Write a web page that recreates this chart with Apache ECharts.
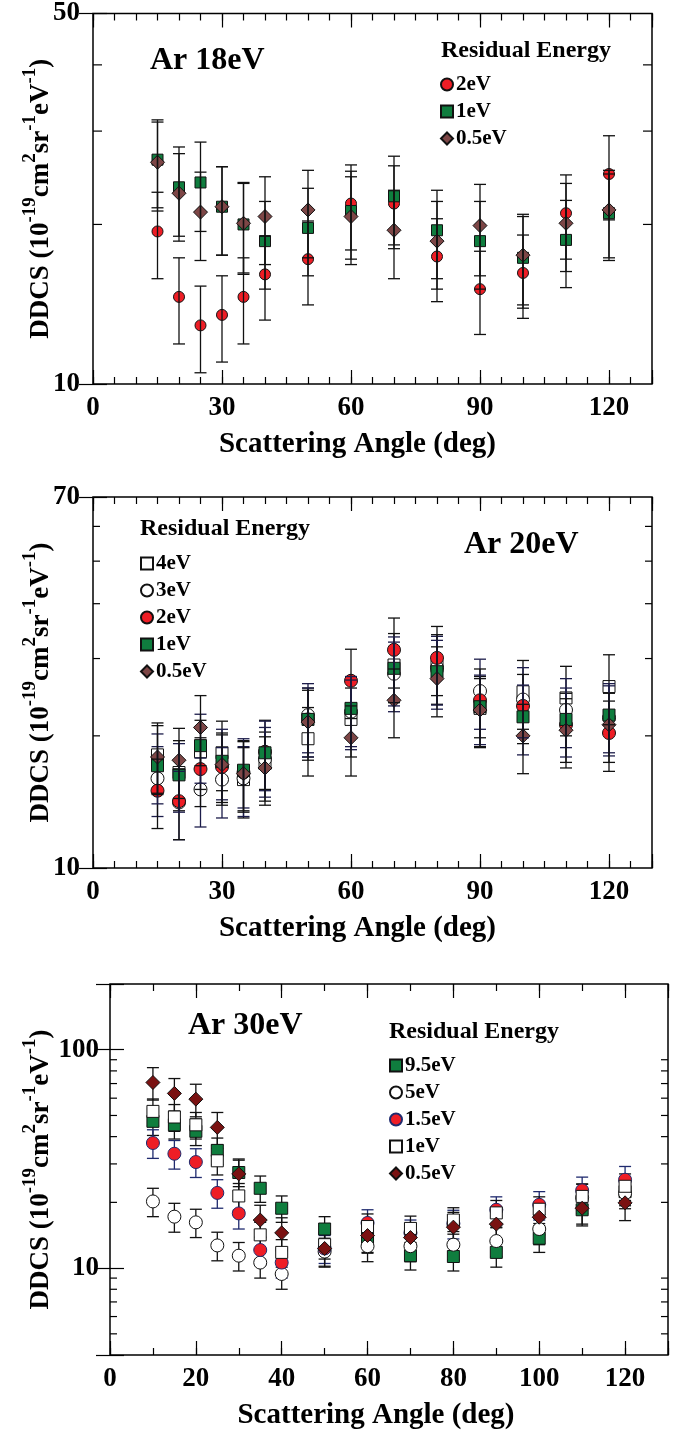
<!DOCTYPE html>
<html>
<head>
<meta charset="utf-8">
<title>Ar DDCS</title>
<script src="https://cdn.jsdelivr.net/npm/echarts@6.0.0/dist/echarts.min.js"></script>
<style>
  html, body { margin: 0; padding: 0; background: #fff; }
  #chart { width: 676px; height: 1434px; }
</style>
</head>
<body>
<div id="chart"></div>
<script>
// ---- data ----
// Ar 18eV
var angles18 = [15, 20, 25, 30, 35, 40, 50, 60, 70, 80, 90, 100, 110, 120];
var ar18_2eV = [19.4, 14.6, 12.9, 13.5, 14.6, 16.1, 17.2, 21.9, 21.9, 17.4, 15.1, 16.2, 21.0, 24.9];
var ar18_2eV_err = [3.6, 2.7, 2.4, 2.5, 2.7, 2.9, 3.1, 4.0, 3.9, 3.1, 2.7, 2.9, 3.8, 4.5];
var ar18_1eV = [26.5, 23.5, 24.0, 21.6, 20.0, 18.6, 19.7, 21.2, 22.6, 19.5, 18.6, 17.3, 18.7, 21.0];
var ar18_1eV_err = [5.0, 4.5, 4.6, 4.1, 3.9, 3.5, 3.7, 4.0, 4.3, 3.7, 3.5, 3.4, 3.5, 3.9];
var ar18_05eV = [26.2, 22.9, 21.1, 21.6, 20.1, 20.7, 21.3, 20.7, 19.5, 18.6, 19.9, 17.5, 20.1, 21.3];
var ar18_05eV_err = [5.0, 4.3, 4.0, 4.1, 3.9, 3.9, 4.0, 3.9, 3.7, 3.5, 3.9, 3.4, 3.8, 4.0];

// Ar 20eV
var angles20 = [15, 20, 25, 30, 35, 40, 50, 60, 70, 80, 90, 100, 110, 120];
var ar20_4eV = [18.1, 16.5, 18.4, 18.3, 15.9, 17.3, 19.7, 21.8, 29.0, 28.8, 23.1, 25.2, 24.4, 25.9];
var ar20_4eV_err = [3.3, 3.0, 3.3, 3.3, 2.9, 3.1, 3.5, 3.9, 5.2, 5.2, 4.2, 4.5, 4.4, 4.7];
var ar20_3eV = [16.0, 14.1, 15.1, 15.9, 16.0, 17.7, 22.3, 22.7, 27.7, 28.6, 25.3, 24.2, 22.9, 22.0];
var ar20_3eV_err = [2.9, 2.5, 2.7, 2.9, 2.9, 3.2, 4.0, 4.1, 5.0, 5.1, 4.6, 4.4, 4.1, 4.0];
var ar20_2eV = [15.0, 14.2, 16.8, 17.0, 16.5, 18.4, 21.8, 26.7, 31.4, 30.1, 24.1, 23.4, 21.2, 20.3];
var ar20_2eV_err = [2.7, 2.6, 3.0, 3.1, 3.0, 3.3, 3.9, 4.8, 5.7, 5.4, 4.3, 4.2, 3.8, 3.7];
var ar20_1eV = [17.1, 16.3, 19.0, 17.5, 16.7, 18.3, 21.8, 23.1, 28.5, 28.0, 23.3, 22.1, 21.8, 22.3];
var ar20_1eV_err = [3.1, 2.9, 3.4, 3.2, 3.0, 3.3, 3.9, 4.2, 5.1, 5.0, 4.2, 4.0, 3.9, 4.0];
var ar20_05eV = [17.9, 17.6, 20.9, 17.2, 16.4, 16.9, 21.5, 19.8, 24.1, 27.0, 22.9, 20.0, 20.6, 21.2];
var ar20_05eV_err = [3.2, 3.2, 3.8, 3.1, 3.0, 3.0, 3.9, 3.6, 4.3, 4.9, 4.1, 3.6, 3.7, 3.8];

// Ar 30eV
var angles30 = [10, 15, 20, 25, 30, 35, 40, 50, 60, 70, 80, 90, 100, 110, 120];
var ar30_95eV = [47.0, 45.3, 42.3, 34.6, 27.4, 23.2, 18.8, 15.1, 13.7, 11.4, 11.3, 11.8, 13.7, 18.5, 22.4];
var ar30_95eV_err = [6.5, 6.3, 5.9, 4.8, 3.8, 3.2, 2.6, 2.1, 1.9, 1.6, 1.6, 1.7, 1.9, 2.6, 3.1];
var ar30_5eV = [20.2, 17.2, 16.2, 12.7, 11.4, 10.6, 9.4, 11.9, 12.6, 12.6, 12.8, 13.3, 15.1, 21.0, 22.0];
var ar30_5eV_err = [3.0, 2.6, 2.4, 1.9, 1.7, 1.6, 1.4, 1.8, 1.9, 1.9, 1.9, 2.0, 2.3, 3.2, 3.3];
var ar30_15eV = [37.4, 33.4, 30.6, 22.1, 17.8, 12.1, 10.6, 12.3, 16.1, 14.5, 16.0, 18.5, 19.5, 22.7, 25.4];
var ar30_15eV_err = [5.6, 5.0, 4.6, 3.3, 2.7, 1.8, 1.6, 1.8, 2.4, 2.1, 2.4, 2.7, 2.9, 3.4, 3.8];
var ar30_1eV = [52.2, 49.2, 45.3, 31.0, 21.4, 14.2, 11.8, 12.8, 15.5, 15.2, 16.6, 17.9, 18.6, 21.3, 23.7];
var ar30_1eV_err = [7.3, 6.9, 6.3, 4.3, 3.0, 2.0, 1.7, 1.8, 2.2, 2.1, 2.3, 2.5, 2.6, 3.0, 3.3];
var ar30_05eV = [70.8, 63.1, 59.4, 44.1, 27.0, 16.6, 14.5, 12.3, 14.1, 13.8, 15.4, 15.9, 17.1, 18.8, 19.9];
var ar30_05eV_err = [12.0, 10.7, 10.1, 7.5, 4.6, 2.8, 2.5, 2.1, 2.4, 2.3, 2.6, 2.7, 2.9, 3.2, 3.4];

// tick labels / tick values
var xLabels18 = [0, 30, 60, 90, 120];
var xLabels30 = [0, 20, 40, 60, 80, 100, 120];
var yLabels18 = [10, 50];
var yLabels20 = [10, 70];
var yLabels30 = [10, 100];
var yMinor18 = [20, 30, 40];
var yMinor20 = [20, 30, 40, 50, 60];
var yMinor30 = [5, 6, 7, 8, 9, 20, 30, 40, 50, 60, 70, 80, 90];

var FONT = "'Liberation Serif', 'Times New Roman', serif";
var RED = '#ee1d25', GREEN = '#0f7d3e', MAUVE = '#7d4646', DARKRED = '#7a1212';

// layout of the three panels
var panels = [
  { left: 93, top: 13, width: 559, height: 371, yMin: 10, yMax: 50, xMajor: 30, xMinor: 5,
    xLabels: xLabels18, yLabels: yLabels18, yMinor: yMinor18, labelMargin: 13, nameGap: 38, xShift: 30 },
  { left: 93, top: 497, width: 559, height: 371, yMin: 10, yMax: 70, xMajor: 30, xMinor: 5,
    xLabels: xLabels18, yLabels: yLabels20, yMinor: yMinor20, labelMargin: 13, nameGap: 38, xShift: 30 },
  { left: 110, top: 984, width: 558, height: 371, yMin: 4, yMax: 200, xMajor: 20, xMinor: 10,
    xLabels: xLabels30, yLabels: yLabels30, yMinor: yMinor30, labelMargin: 11, nameGap: 55, xShift: 26 }
];

var grids = [], xAxes = [], yAxes = [], series = [];

function inList(list, v) {
  for (var i = 0; i < list.length; i++) if (Math.abs(list[i] - v) < 1e-6 * list[i] + 1e-9) return true;
  return false;
}

panels.forEach(function (p, i) {
  grids.push({ left: p.left, top: p.top, width: p.width, height: p.height,
    show: true, borderColor: '#000', borderWidth: 1.5, backgroundColor: 'transparent' });
  var tickStyle = { color: '#000', width: 1.2 };
  // bottom major (with labels + name)
  xAxes.push({
    gridIndex: i, type: 'value', min: 0, max: 130, interval: p.xMajor, position: 'bottom',
    axisLine: { show: false }, splitLine: { show: false },
    axisTick: { inside: true, length: 14, lineStyle: tickStyle },
    axisLabel: { margin: 11, color: '#000', fontFamily: FONT, fontWeight: 'bold', fontSize: 27,
      formatter: function (v) { return inList(p.xLabels, v) ? String(v) : ''; } },
    name: 'Scattering Angle (deg)', nameLocation: 'middle', nameGap: 46, nameMoveOverlap: false,
    nameTextStyle: { color: '#000', fontFamily: FONT, fontWeight: 'bold', fontSize: 29,
      padding: [0, p.xShift, 0, 0] }
  });
  // bottom minor
  xAxes.push({
    gridIndex: i, type: 'value', min: 0, max: 130, interval: p.xMinor, position: 'bottom',
    axisLine: { show: false }, splitLine: { show: false }, axisLabel: { show: false },
    axisTick: { inside: true, length: 7, lineStyle: tickStyle }
  });
  // top major + minor
  xAxes.push({
    gridIndex: i, type: 'value', min: 0, max: 130, interval: p.xMajor, position: 'top',
    axisLine: { show: false }, splitLine: { show: false }, axisLabel: { show: false },
    axisTick: { inside: true, length: 14, lineStyle: tickStyle }
  });
  xAxes.push({
    gridIndex: i, type: 'value', min: 0, max: 130, interval: p.xMinor, position: 'top',
    axisLine: { show: false }, splitLine: { show: false }, axisLabel: { show: false },
    axisTick: { inside: true, length: 7, lineStyle: tickStyle }
  });
  // left log axis
  yAxes.push({
    gridIndex: i, type: 'log', logBase: 10, min: p.yMin, max: p.yMax, position: 'left',
    axisLine: { show: false }, splitLine: { show: false },
    axisTick: { inside: true, length: 14, lineStyle: tickStyle },
    axisLabel: { margin: p.labelMargin, color: '#000', fontFamily: FONT, fontWeight: 'bold', fontSize: 27,
      showMinLabel: true, showMaxLabel: true,
      formatter: function (v) { return inList(p.yLabels, v) ? String(Math.round(v)) : ''; } },
    name: '{m|DDCS (10}{s|-19}{m|cm}{s|2}{m|sr}{s|-1}{m|eV}{s|-1}{m|)}',
    nameLocation: 'middle', nameRotate: 90, nameGap: p.nameGap, nameMoveOverlap: false,
    nameTextStyle: {
      color: '#000',
      rich: {
        m: { fontFamily: FONT, fontWeight: 'bold', fontSize: 27, lineHeight: 34, verticalAlign: 'bottom', color: '#000' },
        s: { fontFamily: FONT, fontWeight: 'bold', fontSize: 19, lineHeight: 14, verticalAlign: 'top', color: '#000' }
      }
    }
  });
  // right log axis
  yAxes.push({
    gridIndex: i, type: 'log', logBase: 10, min: p.yMin, max: p.yMax, position: 'right',
    axisLine: { show: false }, splitLine: { show: false }, axisLabel: { show: false },
    axisTick: { inside: true, length: 14, lineStyle: tickStyle }
  });
  // minor y ticks on both sides, placed through the log scale
  series.push({
    type: 'custom', xAxisIndex: i * 4, yAxisIndex: i * 2, silent: true, z: 5,
    data: p.yMinor.map(function (v) { return [0, v]; }),
    renderItem: function (params, api) {
      var v = api.value(1);
      var a = api.coord([0, v]), b = api.coord([130, v]);
      var len = (i === 0) ? 9 : 7;
      var st = { stroke: '#000', lineWidth: 1.2 };
      return { type: 'group', children: [
        { type: 'line', shape: { x1: a[0], y1: a[1], x2: a[0] + len, y2: a[1] }, style: st },
        { type: 'line', shape: { x1: b[0], y1: b[1], x2: b[0] - len, y2: b[1] }, style: st }
      ] };
    }
  });
});

function scatter(panel, name, xs, ys, symbol, size, color, border) {
  return {
    type: 'scatter', name: 'p' + panel + '|' + name, xAxisIndex: panel * 4, yAxisIndex: panel * 2,
    data: xs.map(function (x, k) { return [x, ys[k]]; }),
    symbol: symbol, symbolSize: size, z: 3,
    itemStyle: { color: color, borderColor: border || '#111', borderWidth: 1, opacity: 1 }
  };
}

function errbar(panel, xs, ys, es, color, z) {
  return {
    type: 'custom', xAxisIndex: panel * 4, yAxisIndex: panel * 2, silent: true, z: z,
    data: xs.map(function (x, k) { return [x, ys[k], es[k]]; }),
    renderItem: function (params, api) {
      var x = api.value(0), y = api.value(1), e = api.value(2);
      var hi = api.coord([x, y + e]), lo = api.coord([x, y - e]);
      var w = 6, st = { stroke: color, lineWidth: 1.3 };
      return { type: 'group', children: [
        { type: 'line', shape: { x1: hi[0], y1: hi[1], x2: lo[0], y2: lo[1] }, style: st },
        { type: 'line', shape: { x1: hi[0] - w, y1: hi[1], x2: hi[0] + w, y2: hi[1] }, style: st },
        { type: 'line', shape: { x1: lo[0] - w, y1: lo[1], x2: lo[0] + w, y2: lo[1] }, style: st }
      ] };
    }
  };
}

// Ar 18eV
series.push(
  scatter(0, '2eV', angles18, ar18_2eV, 'circle', 11, RED),
  scatter(0, '1eV', angles18, ar18_1eV, 'rect', 11, GREEN),
  scatter(0, '0.5eV', angles18, ar18_05eV, 'diamond', 14, MAUVE),
  errbar(0, angles18, ar18_2eV, ar18_2eV_err, '#111', 4),
  errbar(0, angles18, ar18_1eV, ar18_1eV_err, '#111', 4),
  errbar(0, angles18, ar18_05eV, ar18_05eV_err, '#111', 4)
);
// Ar 20eV
series.push(
  scatter(1, '4eV', angles20, ar20_4eV, 'rect', 12, '#fff', '#111'),
  scatter(1, '3eV', angles20, ar20_3eV, 'circle', 13, '#fff', '#111'),
  scatter(1, '2eV', angles20, ar20_2eV, 'circle', 13, RED),
  scatter(1, '1eV', angles20, ar20_1eV, 'rect', 12, GREEN),
  scatter(1, '0.5eV', angles20, ar20_05eV, 'diamond', 14, MAUVE),
  errbar(1, angles20, ar20_4eV, ar20_4eV_err, '#111', 4),
  errbar(1, angles20, ar20_3eV, ar20_3eV_err, '#1c1c4a', 4),
  errbar(1, angles20, ar20_2eV, ar20_2eV_err, '#111', 4),
  errbar(1, angles20, ar20_1eV, ar20_1eV_err, '#1c1c4a', 4),
  errbar(1, angles20, ar20_05eV, ar20_05eV_err, '#111', 4)
);
// Ar 30eV
series.push(
  errbar(2, angles30, ar30_95eV, ar30_95eV_err, '#111', 2),
  errbar(2, angles30, ar30_5eV, ar30_5eV_err, '#111', 2),
  errbar(2, angles30, ar30_15eV, ar30_15eV_err, '#1f2a6e', 2),
  errbar(2, angles30, ar30_1eV, ar30_1eV_err, '#111', 2),
  errbar(2, angles30, ar30_05eV, ar30_05eV_err, '#111', 2),
  scatter(2, '9.5eV', angles30, ar30_95eV, 'rect', 12, GREEN),
  scatter(2, '5eV', angles30, ar30_5eV, 'circle', 13, '#fff', '#111'),
  scatter(2, '1.5eV', angles30, ar30_15eV, 'circle', 13, RED, '#1f2a6e'),
  scatter(2, '1eV', angles30, ar30_1eV, 'rect', 12, '#fff', '#111'),
  scatter(2, '0.5eV', angles30, ar30_05eV, 'diamond', 14, DARKRED)
);

function legend(panel, names, left, top) {
  return {
    orient: 'vertical', left: left, top: top, padding: 0, itemGap: 6,
    itemWidth: 12, itemHeight: 12, selectedMode: false,
    data: names.map(function (n) { return 'p' + panel + '|' + n; }),
    formatter: function (n) { return n.split('|')[1]; },
    textStyle: { fontFamily: FONT, fontWeight: 'bold', fontSize: 21, lineHeight: 20, color: '#000', padding: [0, 0, 0, -2] }
  };
}

function label(text, left, top, size) {
  return { text: text, left: left, top: top, padding: 0,
    textStyle: { fontFamily: FONT, fontWeight: 'bold', fontSize: size, color: '#000' } };
}

var chart = echarts.init(document.getElementById('chart'), null, { renderer: 'canvas' });
chart.setOption({
  animation: false,
  backgroundColor: '#fff',
  title: [
    label('Ar 18eV', 150, 45, 32),
    label('Residual Energy', 441, 39, 24),
    label('Ar 20eV', 464, 529, 32),
    label('Residual Energy', 140, 517, 24),
    label('Ar 30eV', 188, 1010, 32),
    label('Residual Energy', 389, 1020, 24)
  ],
  legend: [
    legend(0, ['2eV', '1eV', '0.5eV'], 440, 74),
    legend(1, ['4eV', '3eV', '2eV', '1eV', '0.5eV'], 140, 553),
    legend(2, ['9.5eV', '5eV', '1.5eV', '1eV', '0.5eV'], 389, 1055)
  ],
  grid: grids,
  xAxis: xAxes,
  yAxis: yAxes,
  series: series
});
window.addEventListener('resize', chart.resize);
</script>
</body>
</html>
